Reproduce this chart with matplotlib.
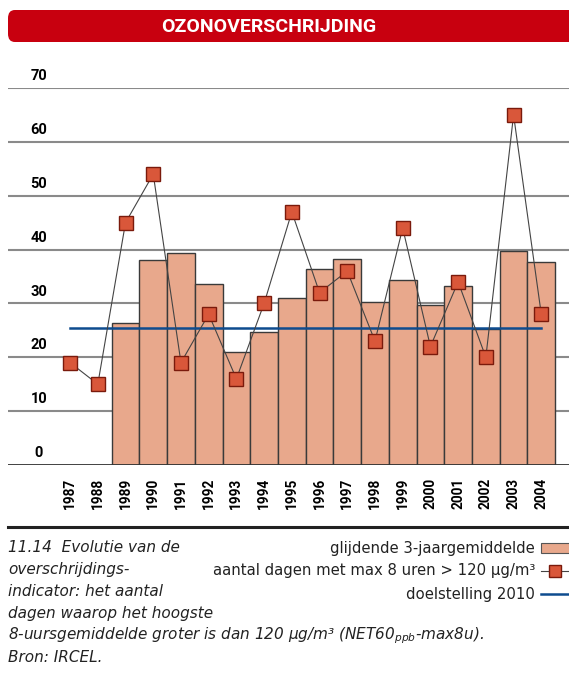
import matplotlib.pyplot as plt
from matplotlib.lines import Line2D
from matplotlib.patches import FancyBboxPatch, Rectangle

# jaren en waarden
years = [1987, 1988, 1989, 1990, 1991, 1992, 1993, 1994, 1995,
         1996, 1997, 1998, 1999, 2000, 2001, 2002, 2003, 2004]
# aantal dagen met max 8 uren > 120 ug/m3
days = [19, 15, 45, 54, 19, 28, 16, 30, 47, 32, 36, 23, 44, 22, 34, 20, 65, 28]
# glijdend 3-jaargemiddelde (vanaf 1989)
avg_years = years[2:]
avg3 = [26.3, 38.0, 39.3, 33.7, 21.0, 24.7, 31.0, 36.3, 38.3,
        30.3, 34.3, 29.7, 33.3, 25.3, 39.7, 37.7]
target = 25.4
yticks = [0, 10, 20, 30, 40, 50, 60, 70]

W, H = 569, 684
plt.rcParams['mathtext.fontset'] = 'dejavusans'
fig = plt.figure(figsize=(W / 100, H / 100), dpi=100)

def fx(px):
    return px / W

def fy(py):
    return 1 - py / H

narrow = ['Roboto', 'DejaVu Sans']
bar_col = '#E8A88C'
mark_col = '#D9573A'
blue = '#0E4C8F'

## titelbalk
fig.add_artist(FancyBboxPatch((fx(8), fy(42)), fx(600), 32 / H,
                              boxstyle='round,pad=0,rounding_size=0.012',
                              transform=fig.transFigure, fc='#C8000F', ec='none'))
fig.text(fx(269), fy(27), 'OZONOVERSCHRIJDING', color='white', fontsize=14,
         fontweight='bold', family=narrow, ha='center', va='center')

## grafiek
ax = fig.add_axes([fx(8), fy(465), 561 / W, 377 / H])
ax.set_xlim(1984.76, 2005.0)
ax.set_ylim(0, 70)
ax.axis('off')

for v in yticks[1:]:
    ax.axhline(v, color='#8a8a8a', lw=1.5, zorder=0)
    ax.text(0.055, v + 0.9, str(v), transform=ax.get_yaxis_transform(),
            fontsize=10.5, fontweight='bold', family=narrow, ha='center', va='bottom')
ax.axhline(0, color='#333333', lw=1.3, zorder=4)
ax.text(0.055, 0.9, '0', transform=ax.get_yaxis_transform(),
        fontsize=10.5, fontweight='bold', family=narrow, ha='center', va='bottom')

ax.bar(avg_years, avg3, width=1.0, color=bar_col, edgecolor='#3a3a3a',
       linewidth=1.0, zorder=2)
ax.plot([years[0], years[-1]], [target, target], color=blue, lw=1.8, zorder=3)
ax.plot(years, days, color='#444444', lw=0.8, marker='s', markersize=10,
        markerfacecolor=mark_col, markeredgecolor='#7a1a0c', markeredgewidth=1.0,
        zorder=5, clip_on=False)

for yr in years:
    ax.text(yr, -2.4, str(yr), rotation=90, fontsize=9.8, fontweight='bold',
            family=narrow, ha='center', va='top')

fig.add_artist(Line2D([fx(8), fx(569)], [fy(527), fy(527)], color='#222222', lw=2.2))

## onderschrift
caption = ['11.14  Evolutie van de', 'overschrijdings-', 'indicator: het aantal',
           'dagen waarop het hoogste',
           r'8-uursgemiddelde groter is dan 120 µg/m³ (NET60$_{ppb}$-max8u).',
           'Bron: IRCEL.']
for i, line in enumerate(caption):
    fig.text(fx(8), fy(547 + i * 22.2), line, fontsize=11, style='italic',
             ha='left', va='center', color='#222222')

## legende
leg = ['glijdende 3-jaargemiddelde', 'aantal dagen met max 8 uren > 120 µg/m³',
       'doelstelling 2010']
for i, line in enumerate(leg):
    fig.text(fx(535), fy(548 + i * 23), line, fontsize=10.7, ha='right',
             va='center', color='#222222')
fig.add_artist(Rectangle((fx(541), fy(553)), 30 / W, 10 / H, transform=fig.transFigure,
                         fc=bar_col, ec='#555555', lw=0.8))
fig.add_artist(Line2D([fx(541), fx(569)], [fy(571), fy(571)], color='#444444', lw=0.8))
fig.add_artist(Line2D([fx(555)], [fy(571)], marker='s', markersize=9,
                      markerfacecolor=mark_col, markeredgecolor='#7a1a0c',
                      markeredgewidth=1.0))
fig.add_artist(Line2D([fx(541), fx(569)], [fy(594), fy(594)], color=blue, lw=1.8))

plt.savefig('out.png', dpi=100)
